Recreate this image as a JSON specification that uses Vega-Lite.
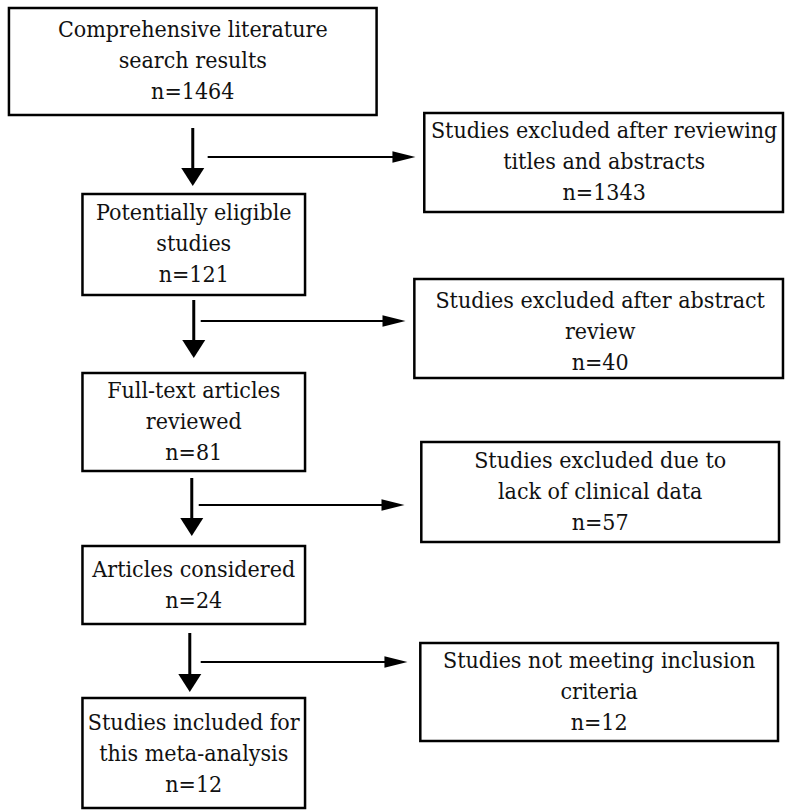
{
  "$schema": "https://vega.github.io/schema/vega-lite/v6.json",
  "autosize": {"type": "fit", "contains": "padding"},
  "width": 785,
  "height": 810,
  "padding": 0,
  "background": "white",
  "config": {"view": {"stroke": null}},
  "datasets": {
    "boxes": [
      {"id": "b1", "x1": 9, "x2": 379, "y1": 8, "y2": 115, "cx": 194, "ty": 30, "label": "Comprehensive literature\nsearch results\nn=1464"},
      {"id": "b2", "x1": 83, "x2": 307, "y1": 194, "y2": 295, "cx": 195, "ty": 213, "label": "Potentially eligible\nstudies\nn=121"},
      {"id": "b3", "x1": 83, "x2": 307, "y1": 373, "y2": 471, "cx": 195, "ty": 391, "label": "Full-text articles\nreviewed\nn=81"},
      {"id": "b4", "x1": 83, "x2": 307, "y1": 546, "y2": 624, "cx": 195, "ty": 569.5, "label": "Articles considered\nn=24"},
      {"id": "b5", "x1": 83, "x2": 307, "y1": 698, "y2": 808, "cx": 195, "ty": 723, "label": "Studies included for\nthis meta-analysis\nn=12"},
      {"id": "r1", "x1": 427, "x2": 788, "y1": 113, "y2": 212, "cx": 608, "ty": 131, "label": "Studies excluded after reviewing\ntitles and abstracts\nn=1343"},
      {"id": "r2", "x1": 417, "x2": 788, "y1": 279, "y2": 378, "cx": 604, "ty": 301, "label": "Studies excluded after abstract\nreview\nn=40"},
      {"id": "r3", "x1": 424, "x2": 784, "y1": 442, "y2": 542, "cx": 604, "ty": 461, "label": "Studies excluded due to\nlack of clinical data\nn=57"},
      {"id": "r4", "x1": 423, "x2": 783, "y1": 643, "y2": 741, "cx": 603, "ty": 661, "label": "Studies not meeting inclusion\ncriteria\nn=12"}
    ],
    "vlines": [
      {"x": 194, "y1": 128, "y2": 172},
      {"x": 195, "y1": 300, "y2": 344},
      {"x": 193, "y1": 478, "y2": 522},
      {"x": 191, "y1": 633, "y2": 678}
    ],
    "vheads": [
      {"x": 194, "y": 177},
      {"x": 195, "y": 349},
      {"x": 193, "y": 527},
      {"x": 191, "y": 683}
    ],
    "hlines": [
      {"y": 157, "x1": 209, "x2": 403},
      {"y": 321, "x1": 202, "x2": 393},
      {"y": 505, "x1": 200, "x2": 392},
      {"y": 662, "x1": 202, "x2": 395}
    ],
    "hheads": [
      {"x": 406.5, "y": 157},
      {"x": 396.5, "y": 321},
      {"x": 395.5, "y": 505},
      {"x": 398.5, "y": 662}
    ]
  },
  "layer": [
    {
      "data": {"name": "boxes"},
      "mark": {"type": "rect", "fill": "white", "stroke": "black", "strokeWidth": 2.5},
      "encoding": {
        "x": {"field": "x1", "type": "quantitative", "scale": {"domain": [0, 785], "nice": false, "zero": false}, "axis": null},
        "x2": {"field": "x2"},
        "y": {"field": "y1", "type": "quantitative", "scale": {"domain": [0, 810], "nice": false, "zero": false, "reverse": true}, "axis": null},
        "y2": {"field": "y2"}
      }
    },
    {
      "data": {"name": "boxes"},
      "mark": {"type": "text", "font": "DejaVu Serif Condensed", "fontSize": 23, "lineHeight": 31, "lineBreak": "\n", "align": "center", "baseline": "middle", "color": "#111"},
      "encoding": {
        "x": {"field": "cx", "type": "quantitative"},
        "y": {"field": "ty", "type": "quantitative"},
        "text": {"field": "label", "type": "nominal"}
      }
    },
    {
      "data": {"name": "vlines"},
      "mark": {"type": "rule", "color": "black", "strokeWidth": 3},
      "encoding": {
        "x": {"field": "x", "type": "quantitative"},
        "y": {"field": "y1", "type": "quantitative"},
        "y2": {"field": "y2"}
      }
    },
    {
      "data": {"name": "hlines"},
      "mark": {"type": "rule", "color": "black", "strokeWidth": 2.2},
      "encoding": {
        "x": {"field": "x1", "type": "quantitative"},
        "x2": {"field": "x2"},
        "y": {"field": "y", "type": "quantitative"}
      }
    },
    {
      "data": {"name": "vheads"},
      "mark": {"type": "point", "shape": "M-1,-0.78L1,-0.78L0,0.78Z", "size": 529, "filled": true, "color": "black", "opacity": 1, "strokeWidth": 0},
      "encoding": {
        "x": {"field": "x", "type": "quantitative"},
        "y": {"field": "y", "type": "quantitative"}
      }
    },
    {
      "data": {"name": "hheads"},
      "mark": {"type": "point", "shape": "M-1,-0.5L1,0L-1,0.5Z", "size": 529, "filled": true, "color": "black", "opacity": 1, "strokeWidth": 0},
      "encoding": {
        "x": {"field": "x", "type": "quantitative"},
        "y": {"field": "y", "type": "quantitative"}
      }
    }
  ]
}
